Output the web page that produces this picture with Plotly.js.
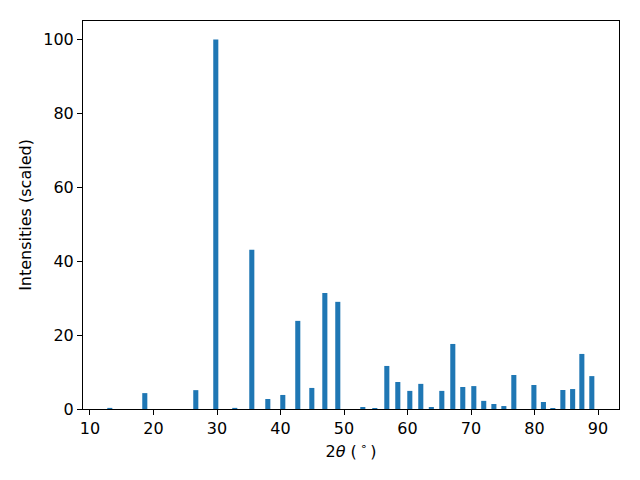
<!DOCTYPE html>
<html>
<head>
<meta charset="utf-8">
<script src="https://cdn.plot.ly/plotly-3.0.1.min.js"></script>
<style>html,body{margin:0;padding:0;background:#fff;}#chart{width:640px;height:480px;}</style>
</head>
<body>
<div id="chart"></div>
<script>
const twoTheta = [13.12, 18.63, 26.66, 29.81, 32.8, 35.48, 38.0, 40.36, 42.72, 44.93, 46.98, 49.02,
  52.96, 54.85, 56.74, 58.47, 60.36, 62.09, 63.75, 65.4, 67.13, 68.7, 70.44, 72.0, 73.6, 75.17,
  76.74, 79.9, 81.4, 82.88, 84.46, 86.0, 87.45, 89.02];
const intensities = [0.3, 4.3, 5.1, 100, 0.3, 43.1, 2.7, 3.8, 23.85, 5.7, 31.4, 29.0,
  0.54, 0.27, 11.65, 7.3, 4.9, 6.8, 0.54, 4.9, 17.6, 5.96, 6.2, 2.2, 1.35, 0.8,
  9.2, 6.5, 1.9, 0.27, 5.15, 5.4, 14.9, 8.9];
const xTicks = [10, 20, 30, 40, 50, 60, 70, 80, 90];
const yTicks = [0, 20, 40, 60, 80, 100];

const font = {family: 'DejaVu Sans', size: 16, color: '#000'};
Plotly.newPlot('chart', [{
  type: 'bar',
  x: twoTheta,
  y: intensities,
  width: 0.8,
  marker: {color: '#1f77b4', line: {width: 0}}
}], {
  width: 640, height: 480,
  margin: {l: 83, r: 21, t: 21, b: 71},
  paper_bgcolor: '#fff', plot_bgcolor: '#fff',
  font: font,
  showlegend: false,
  xaxis: {
    range: [8.9, 93.3],
    tickvals: xTicks, ticktext: xTicks.map(String),
    ticks: 'outside', ticklen: 5, tickwidth: 1, tickcolor: '#000',
    showline: true, mirror: true, linecolor: '#000', linewidth: 1,
    showgrid: false, zeroline: false,
    tickfont: font,
    title: {text: '2<i>θ</i> (\u2009<sup>∘</sup>\u2009)', font: font, standoff: 8}
  },
  yaxis: {
    range: [0, 105],
    tickvals: yTicks, ticktext: yTicks.map(String),
    ticks: 'outside', ticklen: 5, tickwidth: 1, tickcolor: '#000',
    showline: true, mirror: true, linecolor: '#000', linewidth: 1,
    showgrid: false, zeroline: false,
    tickfont: font,
    title: {text: 'Intensities (scaled)', font: font, standoff: 7}
  }
}, {displayModeBar: false, staticPlot: true});
</script>
</body>
</html>
